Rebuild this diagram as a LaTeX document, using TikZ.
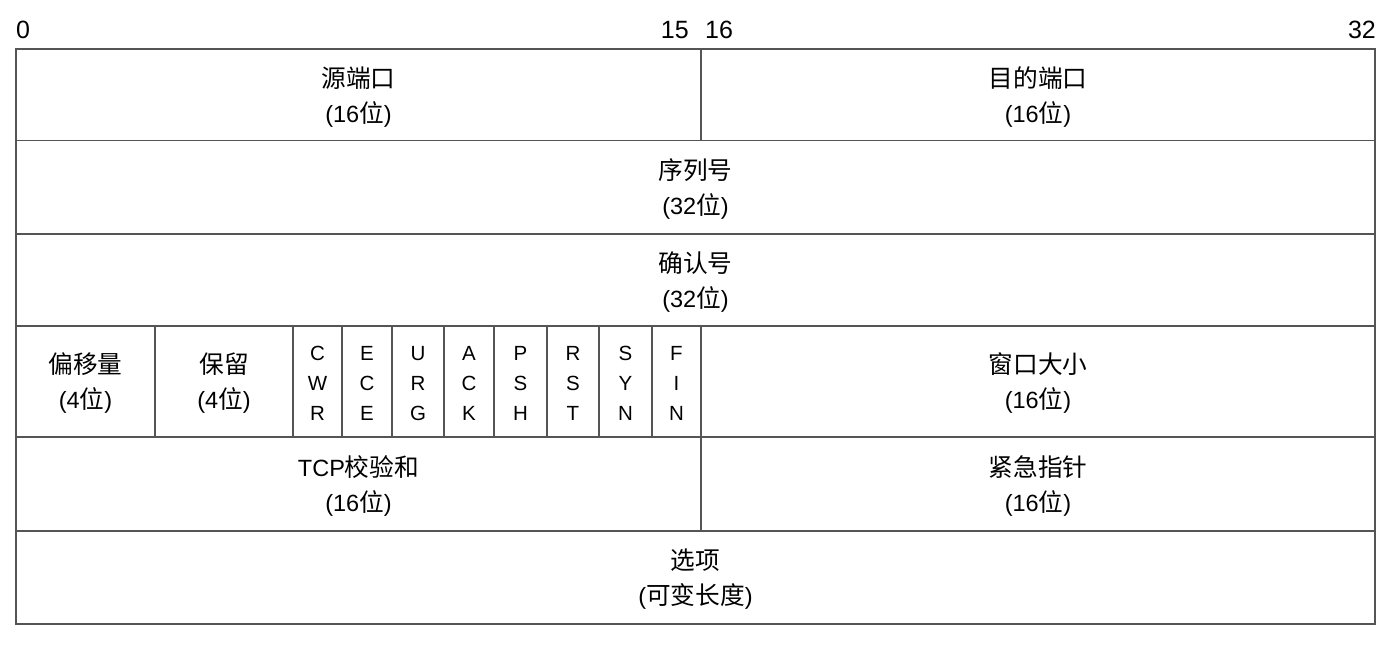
\documentclass[tikz,border=0pt]{standalone}
\usepackage{fontspec}
\setmainfont{Liberation Sans}
\newfontfamily\cjk[Scale=1.05]{Noto Sans CJK SC}
\definecolor{linegray}{HTML}{555555}
\tikzset{
  cell/.style={draw=linegray, line width=1.8pt, rectangle, inner sep=0pt},
  celltext/.style={inner sep=0pt, align=center, yshift=-2pt, font=\fontsize{23.5}{35}\selectfont},
  flagtext/.style={celltext, font=\fontsize{20.5}{30}\selectfont},
  bitlabel/.style={inner sep=0pt, font=\fontsize{25}{30}\selectfont}
}
\newcommand\mkcell[7]{%
  \node[cell, minimum width={(#5-#3)*1pt}, minimum height={(#6-#4)*1pt},
    label={[#1]center:{#7}}]
    (#2) at ({(#3+#5)/2},{(#4+#6)/2}) {};}
\begin{document}
\begin{tikzpicture}[x=1pt,y=-1pt]
\useasboundingbox[fill=white] (0,0) rectangle (1390,648);
% bit labels
\node[bitlabel, anchor=base west] (b0) at (16,38) {0};
\node[bitlabel, anchor=base east] (b15) at (689,38) {15};
\node[bitlabel, anchor=base west] (b16) at (705,38) {16};
\node[bitlabel, anchor=base east] (b32) at (1376,38) {32};
% row 1
\mkcell{celltext}{srcport}{16}{49}{701}{140.5}{{\cjk 源端口}\\({16\cjk 位})}
\mkcell{celltext}{dstport}{701}{49}{1375}{140.5}{{\cjk 目的端口}\\({16\cjk 位})}
% row 2
\mkcell{celltext}{seq}{16}{140.5}{1375}{234}{{\cjk 序列号}\\({32\cjk 位})}
% row 3
\mkcell{celltext}{ack}{16}{234}{1375}{326}{{\cjk 确认号}\\({32\cjk 位})}
% row 4
\mkcell{celltext}{offset}{16}{326}{155}{437}{{\cjk 偏移量}\\({4\cjk 位})}
\mkcell{celltext}{reserved}{155}{326}{293}{437}{{\cjk 保留}\\({4\cjk 位})}
\mkcell{flagtext}{fcwr}{293}{326}{342}{437}{C\\W\\R}
\mkcell{flagtext}{fece}{342}{326}{392}{437}{E\\C\\E}
\mkcell{flagtext}{furg}{392}{326}{444}{437}{U\\R\\G}
\mkcell{flagtext}{fack}{444}{326}{494}{437}{A\\C\\K}
\mkcell{flagtext}{fpsh}{494}{326}{547}{437}{P\\S\\H}
\mkcell{flagtext}{frst}{547}{326}{599}{437}{R\\S\\T}
\mkcell{flagtext}{fsyn}{599}{326}{652}{437}{S\\Y\\N}
\mkcell{flagtext}{ffin}{652}{326}{701}{437}{F\\I\\N}
\mkcell{celltext}{window}{701}{326}{1375}{437}{{\cjk 窗口大小}\\({16\cjk 位})}
% row 5
\mkcell{celltext}{checksum}{16}{437}{701}{531}{TCP{\cjk 校验和}\\({16\cjk 位})}
\mkcell{celltext}{urgent}{701}{437}{1375}{531}{{\cjk 紧急指针}\\({16\cjk 位})}
% row 6
\mkcell{celltext}{options}{16}{531}{1375}{624}{{\cjk 选项}\\({\cjk 可变长度})}
\end{tikzpicture}
\end{document}
